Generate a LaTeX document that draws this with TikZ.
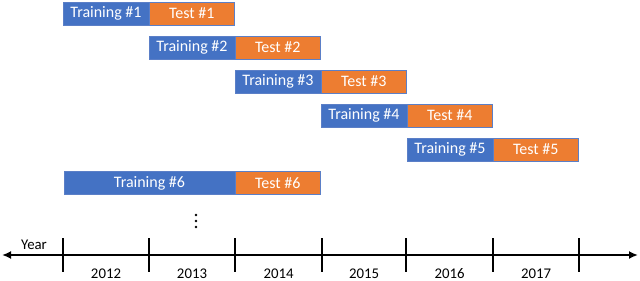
\documentclass[tikz,border=0pt]{standalone}
\usepackage{fontspec}
\setmainfont{Carlito}
\usetikzlibrary{arrows.meta,positioning,calc}

\definecolor{trainblue}{HTML}{4472C4}
\definecolor{testorange}{HTML}{ED7D31}
\definecolor{boxline}{HTML}{5B7FC7}

\tikzset{
    period/.style={draw=boxline, line width=0.8pt, minimum height=23pt, inner sep=0pt,
        outer sep=0pt, text=white, font=\fontsize{16}{18}\selectfont},
    trainbox/.style={period, fill=trainblue, minimum width=86pt},
    testbox/.style={period, fill=testorange, minimum width=85.5pt},
    yearlabel/.style={font=\fontsize{14.8}{17}\selectfont, inner sep=1pt},
    tick/.style={line width=1.6pt}
}

\begin{document}
\begin{tikzpicture}[x=1pt, y=-1pt]
    \useasboundingbox (0,0) rectangle (640,281);

    % rolling windows
    \foreach \i in {1,...,5} {
        \node[trainbox, anchor=west] (train\i) at ({63+(\i-1)*86}, {13.5+(\i-1)*34}) {Training \#\i};
        \node[testbox, right=0pt of train\i] (test\i) {Test \#\i};
    }

    % expanding window
    \node[trainbox, anchor=west, minimum width=171pt] (train6) at (64,183) {Training \#6};
    \node[testbox, right=0pt of train6] (test6) {Test \#6};

    \coordinate (more) at (196,221);
    \foreach \d in {-6,0,6}
        \fill ($(more)+(0,\d)$) circle (1.3pt);

    % time axis
    \coordinate (axisL) at (2,255);
    \coordinate (axisR) at (638,255);
    \draw[line width=1.9pt, {Latex[length=9pt,width=8pt]}-{Latex[length=9pt,width=8pt]}] (axisL) -- (axisR);
    \node[yearlabel] (year) at (34,245.3) {Year};

    \foreach \x [count=\k] in {63,149,235,322,406,493,579} {
        \coordinate (t\k) at (\x,255);
        \draw[tick] ($(t\k)+(0,-17)$) -- ($(t\k)+(0,17)$);
    }
    \foreach \y [count=\k] in {2012,...,2017} {
        \pgfmathtruncatemacro{\n}{\k+1}
        \node[yearlabel] (y\y) at ($(t\k)!0.5!(t\n)+(0,18.3)$) {\y};
    }
\end{tikzpicture}
\end{document}
